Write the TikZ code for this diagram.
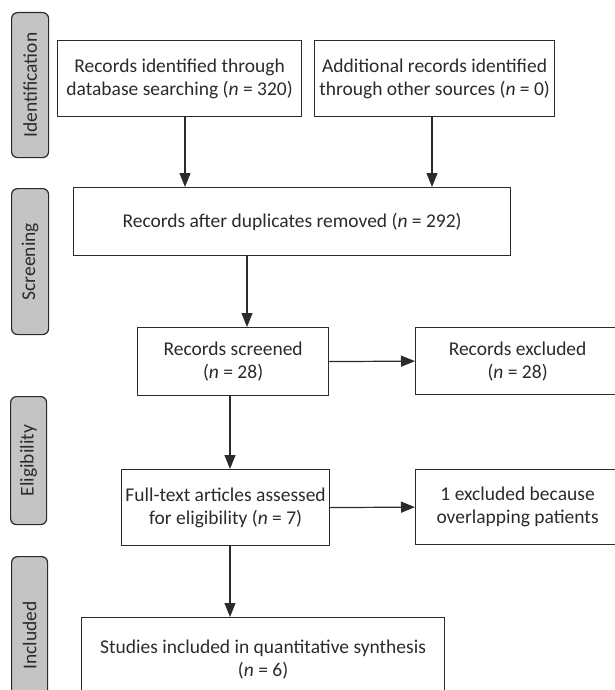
\documentclass[tikz,border=0pt]{standalone}
\usepackage{fontspec}
\setmainfont{Carlito}
\usetikzlibrary{arrows.meta}
\definecolor{ink}{HTML}{2B2B2B}
\definecolor{lab}{HTML}{C4C4C6}
\begin{document}
\begin{tikzpicture}[x=1pt,y=-1pt,
  every node/.style={text=ink,font=\fontsize{19.5}{23}\selectfont},
  box/.style={draw=ink,line width=1.2pt,fill=white,inner sep=0pt,align=center,anchor=north west},
  stage/.style={draw=ink,line width=1.2pt,fill=lab,rounded corners=6pt,inner sep=0pt,anchor=north west},
  arr/.style={draw=ink,line width=1.2pt,-{Triangle[length=14pt,width=11pt]}}]
\useasboundingbox (0,0) rectangle (615,690);
\clip (0,0) rectangle (615,690);
% stage labels
\node[stage,minimum width=37pt,minimum height=145pt] (s1) at (11,12) {};
\node[rotate=90] at (s1.center) {Identification};
\node[stage,minimum width=37pt,minimum height=146pt] (s2) at (11,188) {};
\node[rotate=90] at (s2.center) {Screening};
\node[stage,minimum width=36pt,minimum height=128pt] (s3) at (10,396) {};
\node[rotate=90] at (s3.center) {Eligibility};
\node[stage,minimum width=36pt,minimum height=150pt] (s4) at (11,556) {};
\node[rotate=90] at ([yshift=-4pt]s4.center) {Included};
% boxes
\node[box,minimum width=244pt,minimum height=76pt] (b1) at (57,40)
  {Records identified through\\database searching (\textit{n} = 320)};
\node[box,minimum width=240pt,minimum height=76pt] (b2) at (314,40)
  {Additional records identified\\through other sources (\textit{n} = 0)};
\node[box,minimum width=437pt,minimum height=68pt] (b3) at (73,187)
  {Records after duplicates removed (\textit{n} = 292)};
\node[box,minimum width=191pt,minimum height=68pt] (sc) at (137,327)
  {Records screened\\(\textit{n} = 28)};
\node[box,minimum width=204pt,minimum height=67pt] (ex1) at (415,327)
  {Records excluded\\(\textit{n} = 28)};
\node[box,minimum width=208pt,minimum height=76pt] (ft) at (121,469)
  {Full-text articles assessed\\for eligibility (\textit{n} = 7)};
\node[box,minimum width=204pt,minimum height=75pt] (ex2) at (415,469)
  {1 excluded because\\overlapping patients};
\node[box,minimum width=363pt,minimum height=84pt] (fin) at (81,617)
  {Studies included in quantitative synthesis\\(\textit{n} = 6)};
% connectors
\draw[arr] (b1.south -| 185,0) -- (b3.north -| 185,0);
\draw[arr] (b2.south -| 432,0) -- (b3.north -| 432,0);
\draw[arr] (b3.south -| 247,0) -- (sc.north -| 247,0);
\draw[arr] (sc.east) -- (ex1.west);
\draw[arr] (sc.south -| 230,0) -- (ft.north -| 230,0);
\draw[arr] (ft.east) -- (ex2.west);
\draw[arr] (ft.south -| 230,0) -- (fin.north -| 230,0);
\end{tikzpicture}
\end{document}
